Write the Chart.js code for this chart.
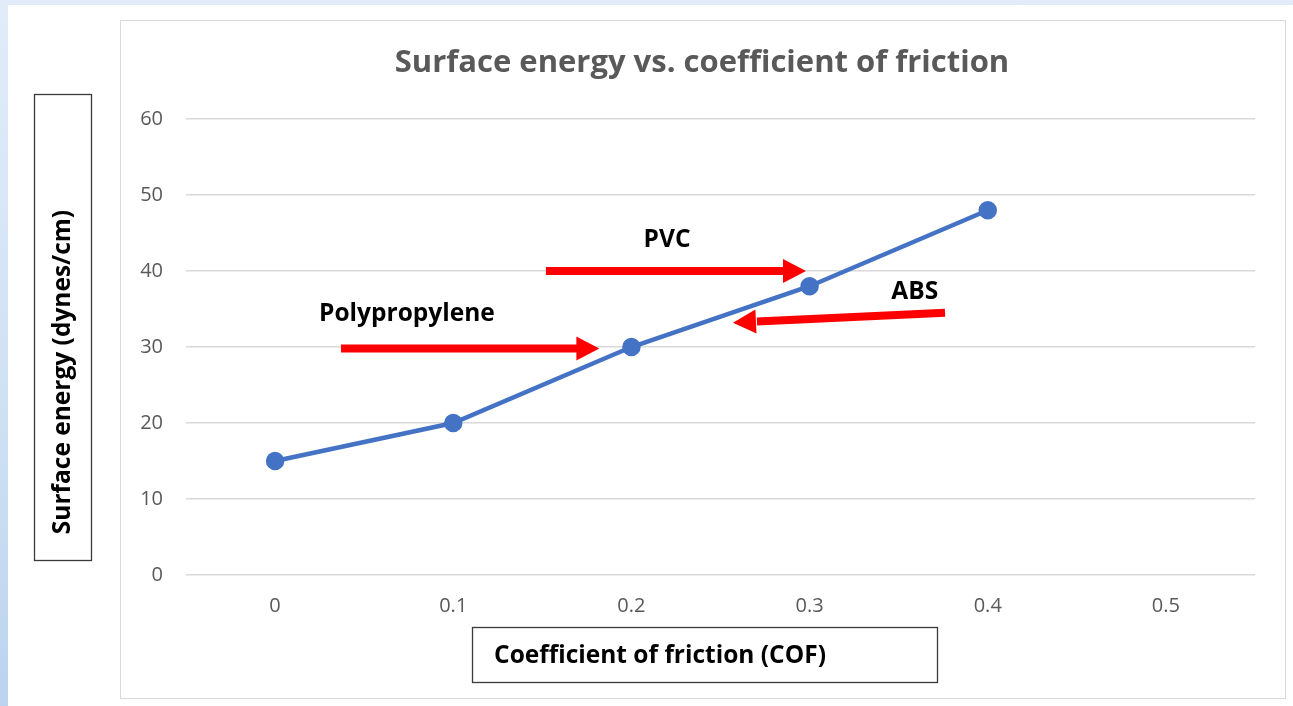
<!DOCTYPE html>
<html>
<head>
<meta charset="utf-8">
<script src="https://cdn.jsdelivr.net/npm/chart.js@4.4.1/dist/chart.umd.min.js"></script>
<style>
  html, body { margin: 0; padding: 0; }
  body {
    width: 1293px; height: 706px; position: relative; overflow: hidden;
    background: linear-gradient(to bottom, #e1ecf8 0%, #cfe0f3 60%, #bcd3ee 100%);
  }
  #sheet { position: absolute; left: 8px; top: 5px; right: 0; bottom: 0; background: #fff; }
  #frame { position: absolute; left: 120px; top: 20px; width: 1164px; height: 677px; border: 1px solid #d9d9d9; }
  #wrap { position: absolute; left: 0; top: 0; width: 1293px; height: 706px; }
</style>
</head>
<body>
<div id="sheet"></div>
<div id="frame"></div>
<div id="wrap"><canvas id="cofChart" width="1293" height="706"></canvas></div>
<script>
const cofLabels = ['0', '0.1', '0.2', '0.3', '0.4', '0.5'];
const surfaceEnergy = [15, 20, 30, 38, 48, null];
const yTicks = [0, 10, 20, 30, 40, 50, 60];

// arrows in data coords: x = category index, y = surface energy
const arrows = [
  { from: [0.37, 29.8], to: [1.82, 29.8] },
  { from: [1.52, 40.0], to: [2.98, 40.0] },
  { from: [3.76, 34.5], to: [2.57, 33.2] }
];
const notes = [
  { text: 'Polypropylene', at: [0.74, 34.3] },
  { text: 'PVC', at: [2.20, 44.1] },
  { text: 'ABS', at: [3.59, 37.2] }
];

const font = "'Open Sans', 'Liberation Sans', sans-serif";

const extras = {
  id: 'extras',
  afterDraw(chart) {
    const ctx = chart.ctx;
    const xs = chart.scales.x, ys = chart.scales.y;
    ctx.save();
    // title, centred on the chart frame
    ctx.fillStyle = '#595959';
    ctx.font = 'bold 31px ' + font;
    ctx.textAlign = 'center';
    ctx.textBaseline = 'middle';
    ctx.fillText('Surface energy vs. coefficient of friction', 702, 63);
    // red arrows
    arrows.forEach(a => {
      const x1 = xs.getPixelForValue(a.from[0]), y1 = ys.getPixelForValue(a.from[1]);
      const x2 = xs.getPixelForValue(a.to[0]), y2 = ys.getPixelForValue(a.to[1]);
      const ang = Math.atan2(y2 - y1, x2 - x1);
      const headLen = 23, headW = 12;
      const bx = x2 - headLen * Math.cos(ang), by = y2 - headLen * Math.sin(ang);
      ctx.strokeStyle = '#ff0000';
      ctx.lineWidth = 8;
      ctx.beginPath();
      ctx.moveTo(x1, y1);
      ctx.lineTo(bx + 1, by);
      ctx.stroke();
      ctx.fillStyle = '#ff0000';
      ctx.beginPath();
      ctx.moveTo(x2, y2);
      ctx.lineTo(bx + headW * Math.sin(ang), by - headW * Math.cos(ang));
      ctx.lineTo(bx - headW * Math.sin(ang), by + headW * Math.cos(ang));
      ctx.closePath();
      ctx.fill();
    });
    // labels
    ctx.fillStyle = '#000';
    ctx.font = 'bold 24.5px ' + font;
    notes.forEach(n => {
      ctx.fillText(n.text, xs.getPixelForValue(n.at[0]), ys.getPixelForValue(n.at[1]));
    });
    // axis title boxes
    ctx.strokeStyle = '#3a3a3a';
    ctx.lineWidth = 1.3;
    ctx.strokeRect(34.5, 94.5, 57, 466);
    ctx.strokeRect(472.5, 627.5, 465, 55);
    ctx.fillText('Coefficient of friction (COF)', 660, 656);
    ctx.translate(63, 372);
    ctx.rotate(-Math.PI / 2);
    ctx.fillText('Surface energy (dynes/cm)', 0, 0);
    ctx.restore();
  }
};

new Chart(document.getElementById('cofChart').getContext('2d'), {
  type: 'line',
  data: {
    labels: cofLabels,
    datasets: [{
      data: surfaceEnergy,
      borderColor: '#4472c4',
      backgroundColor: '#4472c4',
      borderWidth: 4.5,
      pointRadius: 7,
      pointHoverRadius: 7,
      tension: 0
    }]
  },
  options: {
    responsive: false,
    animation: false,
    layout: { padding: { left: 0, right: 38, top: 119, bottom: 0 } },
    plugins: {
      legend: { display: false },
      tooltip: { enabled: false },
      title: { display: false }
    },
    scales: {
      x: {
        offset: true,
        grid: { display: false, drawTicks: false },
        border: { display: false },
        ticks: { color: '#595959', font: { family: font, size: 20 }, padding: 19 },
        afterFit(s) { s.height = 131; }
      },
      y: {
        min: 0, max: 60,
        afterBuildTicks(s) { s.ticks = yTicks.map(v => ({ value: v })); },
        grid: { color: '#d9d9d9', lineWidth: 1.5, drawTicks: false },
        border: { display: false },
        ticks: { color: '#595959', font: { family: font, size: 20 }, padding: 23 },
        afterFit(s) { s.width = 186; }
      }
    }
  },
  plugins: [extras]
});
</script>
</body>
</html>
